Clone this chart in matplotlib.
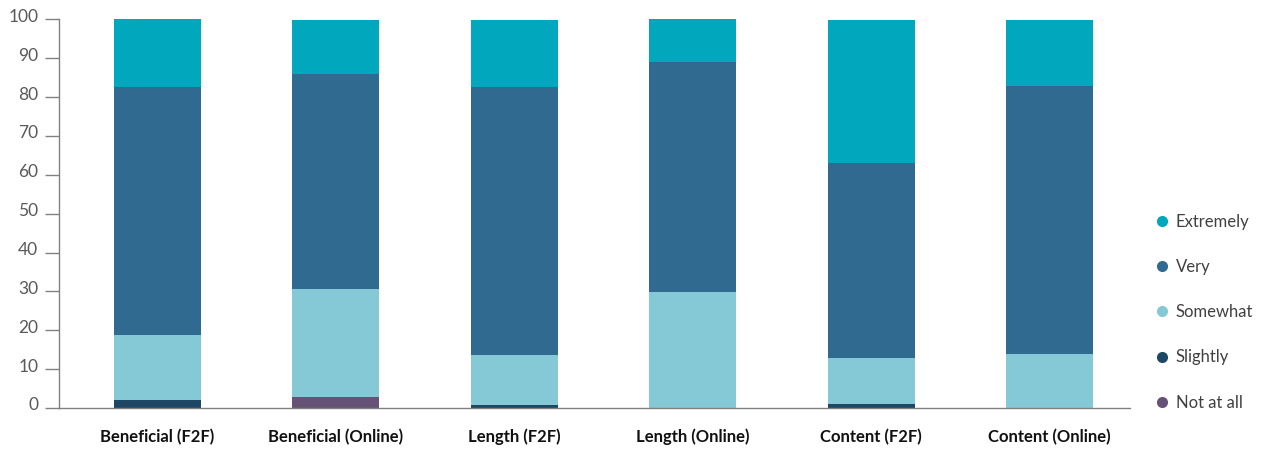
import numpy as np
import matplotlib.pyplot as plt
from matplotlib.lines import Line2D
from matplotlib.transforms import ScaledTranslation

# Survey responses (% of respondents) per question and delivery mode
categories = ['Beneficial (F2F)', 'Beneficial (Online)', 'Length (F2F)',
              'Length (Online)', 'Content (F2F)', 'Content (Online)']
not_at_all = [0.0, 2.8, 0.0, 0.0, 0.0, 0.0]
slightly = [2.1, 0.0, 0.8, 0.0, 1.0, 0.0]
somewhat = [16.7, 27.8, 12.8, 29.8, 11.9, 13.9]
very = [63.8, 55.3, 69.0, 59.2, 50.1, 68.9]
extremely = [17.4, 13.9, 17.2, 11.0, 36.8, 17.0]

levels = ['Not at all', 'Slightly', 'Somewhat', 'Very', 'Extremely']
series = [not_at_all, slightly, somewhat, very, extremely]
colors = ['#655276', '#1D4865', '#86C9D6', '#306A91', '#00A7BD']

plt.rcParams['font.family'] = ['Lato', 'DejaVu Sans']

fig = plt.figure(figsize=(12.64, 4.5), dpi=100)
ax = fig.add_axes([59 / 1264, 1 - 408 / 450, (1130 - 59) / 1264, (408 - 19.3) / 450])

x = np.arange(len(categories))
bottom = np.zeros(len(categories))
for level, vals, col in zip(levels, series, colors):
    vals = np.array(vals)
    ax.bar(x, vals, width=0.488, bottom=bottom, color=col, label=level, linewidth=0)
    bottom += vals

ax.set_xlim(-0.552, 5.451)
ax.set_ylim(0, 100)
ax.set_yticks(range(0, 101, 10))
ax.set_xticks(x)
ax.set_xticklabels(categories, fontweight='bold', fontsize=12, color='#111111')
ax.tick_params(axis='x', length=0, pad=15)
ax.tick_params(axis='y', length=10, width=1, color='#808080', labelsize=12.5,
               labelcolor='#595959', pad=5)

# nudge the y tick labels up slightly
offset = ScaledTranslation(0, 4 / 100, fig.dpi_scale_trans)
for lbl in ax.get_yticklabels():
    lbl.set_transform(lbl.get_transform() + offset)

for side in ['top', 'right']:
    ax.spines[side].set_visible(False)
for side in ['left', 'bottom']:
    ax.spines[side].set_color('#808080')
    ax.spines[side].set_linewidth(1)

handles = [Line2D([], [], marker='o', linestyle='none', markersize=8,
                  markerfacecolor=c, markeredgewidth=0, label=l)
           for l, c in zip(levels, colors)][::-1]
fig.legend(handles=handles, loc='center left', bbox_to_anchor=(1145 / 1264, 0.306),
           frameon=False, fontsize=12, labelcolor='#404040', labelspacing=1.75,
           handletextpad=0.35, handlelength=1.0, borderpad=0)

fig.savefig('out.png', dpi=100)
